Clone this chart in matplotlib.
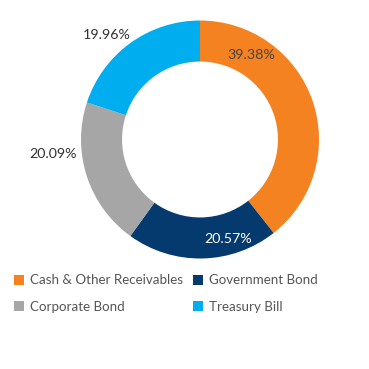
import matplotlib
matplotlib.use("Agg")
import matplotlib.pyplot as plt
from matplotlib.patches import Patch
import math

plt.rcParams['font.family'] = ['Lato', 'DejaVu Sans']

categories = ["Cash & Other Receivables", "Government Bond", "Corporate Bond", "Treasury Bill"]
values = [39.38, 20.57, 20.09, 19.96]
colors = ["#F58220", "#053A6E", "#A6A6A6", "#00AEEF"]
# where each percent label sits: (angle in degrees, radius), text colour
label_pos = [(59, 0.83), (-74, 0.87), (185.6, 1.24), (131.7, 1.18)]
label_colors = ["#444444", "white", "#333333", "#333333"]

W = 369
fig = plt.figure(figsize=(W / 100, W / 100), dpi=100)
# pie centre at (200, 139.5) px from top-left, radius 119 px
cx, cy, r = 200, 139.5, 119
ax = fig.add_axes([(cx - r) / W, (W - cy - r) / W, 2 * r / W, 2 * r / W])
ax.pie(values, colors=colors, startangle=90, counterclock=False, radius=1,
       wedgeprops=dict(width=0.345, edgecolor="none"))
ax.set_xlim(-1, 1)
ax.set_ylim(-1, 1)
ax.set_aspect("equal")
ax.axis("off")

for v, (ang, rad), c in zip(values, label_pos, label_colors):
    a = math.radians(ang)
    ax.text(rad * math.cos(a), rad * math.sin(a), f"{v:.2f}%", ha="center", va="center",
            fontsize=10.3, color=c, clip_on=False)

# legend fills column by column, so reorder to read row by row
order = [0, 2, 1, 3]
handles = [Patch(facecolor=colors[i], edgecolor="none") for i in order]
labels = [categories[i] for i in order]
fig.legend(handles, labels, loc="upper left", bbox_to_anchor=(5 / W, 1 - 265 / W),
           ncol=2, frameon=False, fontsize=9.6, labelcolor="#555555",
           handlelength=0.75, handleheight=0.75, handletextpad=0.4,
           columnspacing=0.8, labelspacing=1.1, borderpad=0.2)

fig.savefig("out.png", dpi=100, facecolor="white")
